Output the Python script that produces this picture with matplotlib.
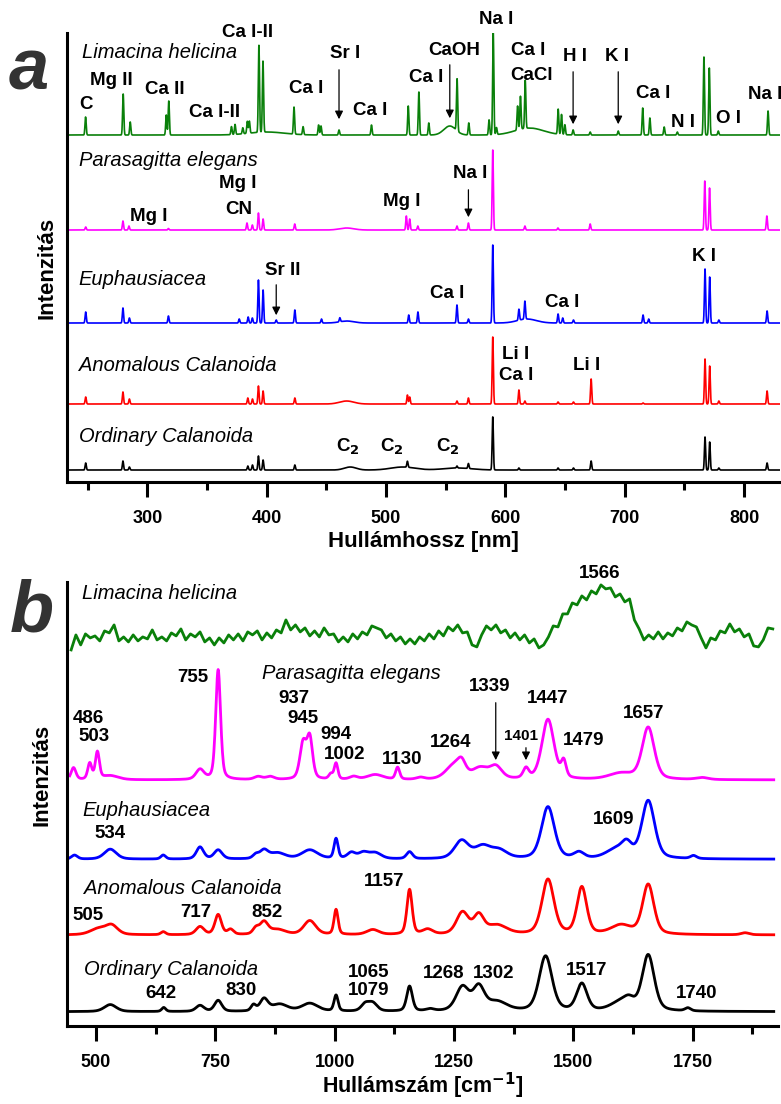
import numpy as np
import matplotlib.pyplot as plt

plt.rcParams["font.family"] = ["Liberation Sans", "DejaVu Sans"]

# ---------------- panel a: LIBS lines (wavelength nm, height) ----------------
species = ["Limacina helicina", "Parasagitta elegans", "Euphausiacea",
           "Anomalous Calanoida", "Ordinary Calanoida"]
colors = ["#0a800a", "#ff00ff", "#0000ff", "#ff0000", "#000000"]

libs_offsets = [347, 252, 159, 78, 12]

lim_nm = [248.3, 279.8, 285.7, 315.9, 318.0, 370.5, 373.5, 380.0, 383.8, 385.5,
          393.5, 396.9, 422.9, 430.5, 443.5, 445.5, 460.6, 487.8, 518.6, 527.5,
          535.8, 559.5, 569.3, 586.3, 589.8, 592.5, 610.2, 612.6, 616.6, 644.2,
          647.0, 649.8, 656.7, 671.0, 694.5, 715.0, 721.0, 733.0, 744.0, 766.3,
          770.8, 778.3, 820.0]
lim_h = [18, 41, 13, 20, 34, 8, 10, 6, 12, 12,
         87, 71, 27, 8, 10, 9, 5, 10, 29, 43,
         12, 52, 12, 15, 102, 7, 24, 33, 48, 25,
         20, 10, 5, 3, 4, 27, 17, 8, 3, 78,
         67, 4, 24]
lim_band_nm = [553.4, 620.0, 400.0]
lim_band_h = [9, 7, 3]
lim_band_w = [5, 12, 15]

par_nm = [248.4, 279.6, 284.6, 317.7, 383.5, 388.0, 393.1, 397.0, 423.5, 517.0,
          519.8, 526.6, 559.4, 569.0, 589.4, 616.3, 644.0, 671.0, 767.0, 771.0,
          819.0]
par_h = [3, 9, 4, 1.5, 7, 5, 17, 11, 6, 14,
         11, 4, 4, 7, 80, 4, 2, 6, 49, 42,
         14]
par_band_nm = [467.0]
par_band_h = [2]
par_band_w = [6]

eup_nm = [248.4, 279.6, 285.0, 317.7, 377.0, 384.5, 388.0, 393.1, 397.0, 408.0,
          423.6, 445.9, 461.3, 519.0, 526.7, 559.4, 569.0, 589.4, 611.3, 616.3,
          644.1, 648.0, 657.0, 715.3, 720.0, 767.2, 771.1, 778.8, 819.2]
eup_h = [11, 15, 5, 7, 4, 6, 5, 43, 33, 3,
         13, 4, 4, 8, 11, 18, 4, 78, 11, 18,
         9, 5, 3, 8, 4, 54, 46, 3, 12]
eup_band_nm = [467.0, 618.0]
eup_band_h = [2, 4]
eup_band_w = [6, 8]

ano_nm = [248.4, 279.6, 285.0, 384.2, 388.1, 393.1, 397.0, 423.6, 517.9, 519.8,
          559.4, 569.0, 589.4, 611.3, 616.3, 644.1, 657.0, 671.8, 715.3, 767.2,
          771.1, 778.8, 819.2]
ano_h = [7, 12, 5, 6, 5, 18, 13, 6, 9, 7,
         3, 6, 67, 14, 3, 2, 2, 25, 1, 45,
         38, 3, 13]
ano_band_nm = [467.0]
ano_band_h = [3]
ano_band_w = [6]

ord_nm = [248.4, 279.6, 285.0, 384.2, 388.1, 393.1, 397.0, 423.6, 517.9, 559.4,
          569.0, 589.4, 611.3, 644.1, 657.0, 671.8, 767.2, 771.1, 778.8, 819.2]
ord_h = [7, 9, 3, 4, 5, 14, 10, 5, 6, 2,
         5, 53, 2, 2, 2, 9, 33, 28, 2, 7]
ord_band_nm = [470.0, 514.0, 560.0]
ord_band_h = [3, 3, 2]
ord_band_w = [5, 10, 12]

libs_lines = [(lim_nm, lim_h), (par_nm, par_h), (eup_nm, eup_h), (ano_nm, ano_h), (ord_nm, ord_h)]
libs_bands = [(lim_band_nm, lim_band_h, lim_band_w), (par_band_nm, par_band_h, par_band_w),
              (eup_band_nm, eup_band_h, eup_band_w), (ano_band_nm, ano_band_h, ano_band_w),
              (ord_band_nm, ord_band_h, ord_band_w)]

# element labels: (text, nm, y)
libs_labels = [
    ("C", 248.3, 378), ("Mg II", 269.8, 402), ("Ca II", 314.5, 392.7),
    ("Ca I-II", 356.4, 369.3), ("Ca I-II", 384.3, 449.7), ("Ca I", 433.3, 393.7),
    ("Sr I", 465.4, 428.7), ("Ca I", 486.3, 371.3), ("Ca I", 533.3, 404.7),
    ("CaOH", 556.7, 432), ("Na I", 592.5, 462.7), ("Ca I", 619.0, 432),
    ("CaCl", 621.9, 406.3), ("H I", 658.2, 426), ("K I", 693.6, 426),
    ("Ca I", 723.8, 388.7), ("N I", 749.0, 359.3), ("O I", 786.7, 363.7),
    ("Na I", 817.4, 388),
    ("Mg I", 301.5, 266), ("Mg I", 375.8, 298.7), ("CN", 376.5, 272.7),
    ("Mg I", 513.2, 280.3), ("Na I", 570.2, 308.7),
    ("Sr II", 413.2, 212), ("Ca I", 550.9, 188.7), ("Ca I", 647.9, 179.7),
    ("K I", 766.3, 225.3),
    ("Li I", 608.6, 127.7), ("Ca I", 608.6, 107), ("Li I", 668.2, 117),
]
c2_nm = [468.1, 505.1, 551.7]
# arrows: (x, y_start, y_end)
libs_arrows = [(460.6, 415, 360), (553.4, 420, 361), (656.7, 413, 355),
               (694.5, 413, 355), (569.0, 295, 262), (408.0, 200, 164)]
libs_name_pos = [(245.0, 429.7), (243.0, 322), (242.5, 203), (243.0, 117), (243.0, 46)]

# ---------------- panel b: Raman ----------------
raman_offsets = [0, 246, 166.7, 91, 14.3]

lim_raman_x = [448, 458, 468, 478, 488, 498, 508, 518, 528, 538, 548, 558, 568, 578, 588,
               598, 608, 618, 628, 638, 648, 658, 668, 678, 688, 698, 708, 718, 728, 738,
               748, 758, 768, 778, 788, 798, 808, 818, 828, 838, 848, 858, 868, 878, 888,
               898, 908, 918, 928, 938, 948, 958, 968, 978, 988, 998, 1008, 1018, 1028, 1038,
               1048, 1058, 1068, 1078, 1088, 1098, 1108, 1118, 1128, 1138, 1148, 1158, 1168,
               1178, 1188, 1198, 1208, 1218, 1228, 1238, 1248, 1258, 1268, 1278, 1288, 1298,
               1308, 1318, 1328, 1338, 1348, 1358, 1368, 1378, 1388, 1398, 1408, 1418, 1428,
               1438, 1448, 1458, 1468, 1478, 1488, 1498, 1508, 1518, 1528, 1538, 1548, 1558,
               1568, 1578, 1588, 1598, 1608, 1618, 1628, 1638, 1648, 1658, 1668, 1678, 1688,
               1698, 1708, 1718, 1728, 1738, 1748, 1758, 1768, 1778, 1788, 1798, 1808, 1818,
               1828, 1838, 1848, 1858, 1868, 1878, 1888, 1898, 1908, 1918]
lim_raman_y = [376, 391, 381, 392, 388, 390, 385, 395, 393, 401, 385, 389, 384, 391, 385,
               389, 387, 396, 386, 389, 385, 393, 390, 397, 386, 392, 389, 394, 384, 388,
               381, 388, 383, 391, 386, 392, 385, 394, 391, 395, 386, 393, 388, 396, 393,
               406, 396, 401, 394, 398, 390, 395, 389, 398, 391, 392, 384, 389, 384, 392,
               387, 394, 391, 400, 398, 396, 388, 392, 385, 389, 382, 387, 382,
               389, 385, 392, 387, 395, 390, 399, 395, 401, 393, 394, 381, 379,
               391, 400, 396, 401, 393, 396, 388, 393, 386, 391, 383, 387, 378,
               381, 389, 400, 399, 412, 412, 423, 421, 430, 426, 435, 432, 441,
               437, 438, 429, 432, 424, 427, 406, 397, 386, 391, 387, 394, 387,
               393, 390, 398, 395, 404, 401, 399, 388, 378, 388, 386, 395, 393,
               402, 394, 397, 389, 392, 380, 379, 386, 398, 397]

# other spectra: peak centre (cm-1), height, fwhm
par_pk = [453, 487, 503, 530, 718, 756, 840, 865, 934, 948, 992, 1003, 1040, 1085, 1132,
          1180, 1250, 1266, 1305, 1338, 1401, 1447, 1480, 1600, 1657, 1770]
par_ht = [12, 16, 27, 4, 10, 110, 3, 3, 36, 40, 5, 16, 3, 5, 12,
          2, 14, 12, 11, 12, 10, 60, 16, 6, 52, 2]
par_fw = [12, 10, 10, 40, 20, 12, 20, 20, 16, 14, 10, 9, 20, 40, 10,
          20, 40, 20, 40, 30, 14, 30, 12, 60, 30, 30]

eup_pk = [455, 530, 641, 718, 756, 835, 852, 880, 948, 1003, 1035, 1060, 1085, 1157,
          1266, 1310, 1345, 1447, 1512, 1590, 1612, 1657, 1752]
eup_ht = [4, 10, 4, 12, 9, 4, 8, 6, 9, 20, 6, 6, 6, 7,
          18, 12, 8, 52, 6, 9, 12, 58, 3]
eup_fw = [15, 30, 12, 18, 20, 15, 20, 40, 40, 10, 20, 25, 30, 15,
          35, 40, 40, 32, 25, 50, 25, 32, 15]

ano_pk = [505, 533, 641, 718, 756, 782, 835, 852, 880, 948, 1003, 1080, 1157, 1195,
          1268, 1302, 1340, 1447, 1518, 1600, 1657, 1860]
ano_ht = [6, 9, 3, 8, 20, 5, 6, 12, 5, 14, 25, 5, 45, 5,
          22, 18, 9, 55, 47, 9, 50, 2]
ano_fw = [40, 30, 12, 20, 16, 15, 15, 20, 40, 30, 10, 30, 13, 25,
          30, 25, 50, 30, 24, 50, 28, 20]

ord_pk = [530, 642, 718, 756, 830, 852, 885, 948, 1003, 1064, 1080, 1157, 1200,
          1268, 1302, 1340, 1442, 1518, 1600, 1617, 1657, 1740]
ord_ht = [7, 4, 6, 11, 6, 12, 7, 8, 16, 7, 8, 25, 2,
          24, 23, 9, 55, 27, 9, 7, 56, 3]
ord_fw = [30, 10, 20, 18, 12, 20, 40, 40, 10, 20, 22, 14, 20,
          32, 28, 50, 32, 26, 50, 25, 30, 14]

raman_peaks = [None, (par_pk, par_ht, par_fw), (eup_pk, eup_ht, eup_fw),
               (ano_pk, ano_ht, ano_fw), (ord_pk, ord_ht, ord_fw)]

raman_labels = [
    ("1566", 1554.9, 452.7), ("755", 703.2, 348.7), ("486", 484.3, 307.7),
    ("503", 496.6, 289.3), ("937", 914.8, 327.7), ("945", 934.3, 307.7),
    ("994", 1003.7, 291), ("1002", 1021, 271), ("1130", 1141.1, 266.7),
    ("1264", 1242.3, 283.3), ("1339", 1324, 339.3), ("1447", 1446.2, 327.7),
    ("1479", 1521.2, 285.3), ("1657", 1648.1, 312),
    ("534", 530.4, 192.7), ("1609", 1583.8, 206),
    ("1157", 1104.7, 144.3), ("505", 484.3, 110), ("717", 708.3, 113.3),
    ("852", 857.4, 113.3),
    ("642", 636.2, 32), ("830", 804.6, 35.3), ("1065", 1070.9, 53.3),
    ("1079", 1070.9, 35.3), ("1268", 1227.9, 52.7), ("1302", 1333.9, 52),
    ("1517", 1528.7, 55.3), ("1740", 1758.1, 32),
]
raman_arrows = [(1337.6, 326, 263), (1400.9, 281, 263)]
raman_name_pos = [(470.7, 432.7), (847.8, 352), (470.7, 215.3), (474.9, 137.7), (474.9, 56)]


def pvoigt(x, c, h, fw):
    g = np.exp(-4 * np.log(2) * ((x - c) / fw) ** 2)
    lo = 1.0 / (1.0 + 4 * ((x - c) / fw) ** 2)
    return h * (0.6 * g + 0.4 * lo)


def style_axes(ax, pad):
    for s in ["top", "right"]:
        ax.spines[s].set_visible(False)
    for s in ["left", "bottom"]:
        ax.spines[s].set_linewidth(2.2)
    ax.set_yticks([])
    ax.tick_params(axis="x", which="major", direction="out", length=11, width=2.2,
                   labelsize=13, pad=pad)
    ax.tick_params(axis="x", which="minor", direction="out", length=6, width=2.2)
    for lab in ax.get_xticklabels():
        lab.set_fontweight("bold")


fig = plt.figure(figsize=(7.81, 11.04), dpi=100)

# ---- panel a ----
ax1 = fig.add_axes([0.0862, 0.5634, 0.9125, 0.4067])
wl = np.arange(233, 830, 0.1)
for i in range(5):
    nm, hh = libs_lines[i]
    y = np.zeros_like(wl)
    for p, h in zip(nm, hh):
        y += h * np.exp(-0.5 * ((wl - p) / 0.5) ** 2)
    bn, bh, bw = libs_bands[i]
    for p, h, w in zip(bn, bh, bw):
        y += h * np.exp(-0.5 * ((wl - p) / w) ** 2)
    ax1.plot(wl, y + libs_offsets[i], color=colors[i], lw=1.2)
    x0, y0 = libs_name_pos[i]
    ax1.text(x0, y0, species[i], style="italic", fontsize=14.5, ha="left", va="center")

for txt, x, y in libs_labels:
    ax1.text(x, y, txt, fontsize=13.5, fontweight="bold", ha="center", va="center")
for x in c2_nm:
    ax1.text(x, 30, "C$_\\mathbf{2}$", fontsize=13.5, fontweight="bold", ha="center",
             va="baseline")
for x, y0, y1 in libs_arrows:
    ax1.annotate("", xy=(x, y1), xytext=(x, y0),
                 arrowprops=dict(arrowstyle="-|>", color="black", lw=0.9,
                                 mutation_scale=12))

ax1.set_xlim(233, 830)
ax1.set_ylim(0, 449)
ax1.set_xticks([300, 400, 500, 600, 700, 800])
ax1.set_xticks([250, 350, 450, 550, 650, 750], minor=True)
style_axes(ax1, 9)
ax1.set_xlabel("Hullámhossz [nm]", fontsize=16, fontweight="bold", labelpad=3)

# ---- panel b ----
ax2 = fig.add_axes([0.0862, 0.0707, 0.91, 0.4022])
wn = np.arange(445, 1921, 1.0)
ax2.plot(lim_raman_x, lim_raman_y, color=colors[0], lw=2.0)
for i in range(1, 5):
    pk, ht, fw = raman_peaks[i]
    y = np.zeros_like(wn)
    for c, h, w in zip(pk, ht, fw):
        y += pvoigt(wn, c, h, w)
    ax2.plot(wn, y + raman_offsets[i], color=colors[i], lw=2.0)
for i in range(5):
    x, y = raman_name_pos[i]
    ax2.text(x, y, species[i], style="italic", fontsize=14.5, ha="left", va="center")
for txt, x, y in raman_labels:
    ax2.text(x, y, txt, fontsize=13.5, fontweight="bold", ha="center", va="center")
ax2.text(1391.3, 290, "1401", fontsize=11, fontweight="bold", ha="center", va="center")
for x, y0, y1 in raman_arrows:
    ax2.annotate("", xy=(x, y1), xytext=(x, y0),
                 arrowprops=dict(arrowstyle="-|>", color="black", lw=0.9,
                                 mutation_scale=12))

ax2.set_xlim(440, 1929)
ax2.set_ylim(0, 444)
ax2.set_xticks([500, 750, 1000, 1250, 1500, 1750])
ax2.set_xticks([625, 875, 1125, 1375, 1625, 1875], minor=True)
style_axes(ax2, 9)
ax2.set_xlabel("Hullámszám [cm$^{\\mathbf{-1}}$]", fontsize=15.5, fontweight="bold", labelpad=0)

# panel letters and y labels
fig.text(29 / 781, 1 - 71 / 1104, "a", fontsize=52, fontweight="bold", style="italic",
         color="#333333", ha="center", va="center")
fig.text(32 / 781, 1 - 612 / 1104, "b", fontsize=52, fontweight="bold", style="italic",
         color="#333333", ha="center", va="center")
fig.text(47 / 781, 1 - 268 / 1104, "Intenzitás", fontsize=16, fontweight="bold",
         rotation=90, ha="center", va="center")
fig.text(42 / 781, 1 - 775 / 1104, "Intenzitás", fontsize=16, fontweight="bold",
         rotation=90, ha="center", va="center")

fig.savefig("out.png", dpi=100)
